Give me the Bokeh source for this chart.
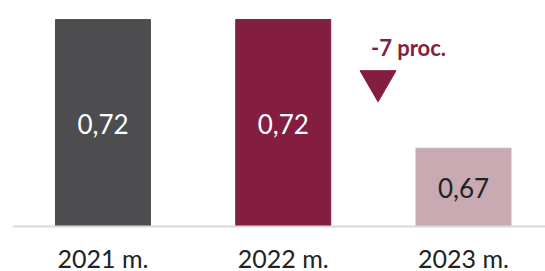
from bokeh.plotting import figure
from bokeh.models import ColumnDataSource, Range1d, Span
from bokeh.core.properties import value
from bokeh.embed import file_html
from bokeh.resources import INLINE

# ---- data ----
years = ["2021 m.", "2022 m.", "2023 m."]
values = [0.72, 0.72, 0.67]
bar_colors = ["#4d4d4f", "#841e41", "#caaab2"]
label_colors = ["#ffffff", "#ffffff", "#222222"]

y_min = 0.6396            # baseline of the bars
px_per_unit = 2574.0      # vertical scale in pixels per value unit
y_top = y_min + 226 / px_per_unit
y_bottom = y_min - 45 / px_per_unit

xs = list(range(len(years)))
mids = [(y_min + v) / 2 for v in values]
labels = [f"{v:.2f}".replace(".", ",") for v in values]
src = ColumnDataSource(dict(x=xs, top=values, color=bar_colors, base=[y_min] * len(xs),
                            mid=mids, lab=labels, lcol=label_colors, year=years))

p = figure(width=545, height=271, x_range=Range1d(-0.502, 2.455),
           y_range=Range1d(y_bottom, y_top), output_backend="svg",
           toolbar_location=None, min_border_left=12, min_border_right=0,
           min_border_top=0, min_border_bottom=0)
p.outline_line_color = None
p.xgrid.visible = False
p.ygrid.visible = False
p.xaxis.visible = False
p.yaxis.visible = False
p.background_fill_color = "white"

p.vbar(x="x", top="top", bottom=y_min, width=0.527, color="color", source=src)
p.text(x="x", y="mid", text="lab", text_color="lcol", text_align="center",
       text_baseline="middle", text_font=value("Lato"), text_font_size="26px",
       y_offset=1, source=src)

# baseline
p.add_layout(Span(location=y_min, dimension="width", line_color="#d9d9d9",
                  line_width=2))

# category labels under the baseline
p.text(x="x", y="base", text="year", text_color="#222222", text_align="center",
       text_baseline="alphabetic", text_font=value("Lato"), text_font_size="25px",
       y_offset=31, source=src)

# change annotation
pct = round((values[2] - values[1]) / values[1] * 100)
ann = ColumnDataSource(dict(x=[1.695], y=[0.7092], t=[f"{pct} proc."]))
p.text(x="x", y="y", text="t", text_color="#841e41", text_align="center",
       text_baseline="middle", text_font=value("Lato"), text_font_size="22px",
       text_font_style="bold", source=ann)
tri = ColumnDataSource(dict(x=[1.526], y=[0.6961]))
p.scatter(x="x", y="y", marker="inverted_triangle", size=36,
          color="#841e41", source=tri)

open("out.html", "w").write(file_html(p, INLINE))
